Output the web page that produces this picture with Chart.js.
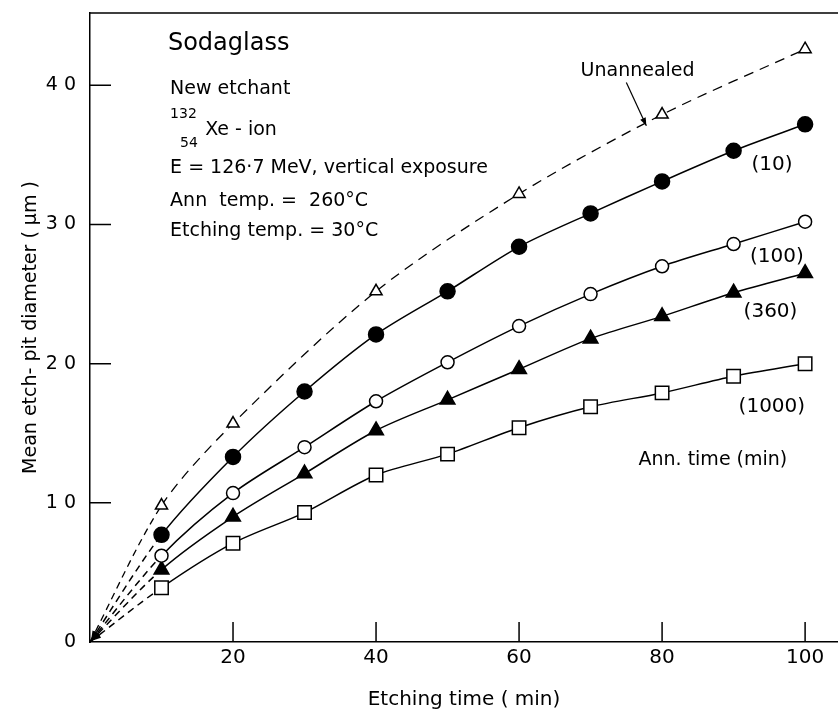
<!DOCTYPE html>
<html>
<head>
<meta charset="utf-8">
<script src="https://cdn.jsdelivr.net/npm/chart.js@4.4.1/dist/chart.umd.min.js"></script>
<style>
  html, body { margin: 0; padding: 0; background: #fff; }
  #wrap { width: 838px; height: 718px; }
</style>
</head>
<body>
<div id="wrap"><canvas id="chart"></canvas></div>
<script>
// etching time (min) and mean etch-pit diameter (um)
const etchTime = [10, 20, 30, 40, 50, 60, 70, 80, 90, 100];
const unannealedTime = [10, 20, 40, 60, 80, 100];
const unannealed = [9.8, 15.7, 25.2, 32.2, 37.9, 42.6];
const ann10 = [7.7, 13.3, 18.0, 22.1, 25.2, 28.4, 30.8, 33.1, 35.3, 37.2];
const ann100 = [6.2, 10.7, 14.0, 17.3, 20.1, 22.7, 25.0, 27.0, 28.6, 30.2];
const ann360 = [5.2, 9.0, 12.1, 15.2, 17.4, 19.6, 21.8, 23.4, 25.1, 26.5];
const ann1000 = [3.9, 7.1, 9.3, 12.0, 13.5, 15.4, 16.9, 17.9, 19.1, 20.0];

const xTicks = [20, 40, 60, 80, 100];
const yTicks = [0, 10, 20, 30, 40];

const FONT = "'DejaVu Sans', sans-serif";

// text placed in data units
const notes = [
    { text: 'Sodaglass', x: 10.9, y: 43.0, size: 24 },
    { text: 'New etchant', x: 11.2, y: 39.7, size: 19 },
    { text: '132', x: 11.2, y: 37.9, size: 14 },
    { text: 'Xe - ion', x: 16.1, y: 36.8, size: 19 },
    { text: '54', x: 12.6, y: 35.8, size: 14 },
    { text: 'E = 126·7 MeV, vertical exposure', x: 11.2, y: 34.05, size: 19 },
    { text: 'Ann  temp. =  260°C', x: 11.2, y: 31.7, size: 19 },
    { text: 'Etching temp. = 30°C', x: 11.2, y: 29.5, size: 19 },
    { text: 'Unannealed', x: 68.6, y: 41.0, size: 19 },
    { text: '(10)', x: 92.5, y: 34.3, size: 20 },
    { text: '(100)', x: 92.3, y: 27.7, size: 20 },
    { text: '(360)', x: 91.4, y: 23.7, size: 20 },
    { text: '(1000)', x: 90.7, y: 16.9, size: 20 },
    { text: 'Ann. time (min)', x: 76.7, y: 13.1, size: 19 }
];

// pointer from "Unannealed" to its curve
const pointer = { from: [75.0, 40.2], to: [77.8, 37.1] };

function makeSeries(label, times, values, pointStyle, radius, filled, allDashed) {
    const data = [{ x: 0, y: 0 }].concat(times.map((t, i) => ({ x: t, y: values[i] })));
    return {
        label: label,
        data: data,
        borderColor: '#000',
        borderWidth: allDashed ? 1.3 : 1.5,
        borderDash: allDashed ? [10, 7] : [],
        tension: 0.3,
        segment: {
            borderDash: ctx => (ctx.p0DataIndex === 0 ? [7, 5] : undefined)
        },
        pointStyle: pointStyle,
        pointRadius: ctx => (ctx.dataIndex === 0 ? 0 : radius),
        pointBorderWidth: 1.5,
        pointBorderColor: '#000',
        pointBackgroundColor: filled ? '#000' : '#fff',
        fill: false,
        clip: false
    };
}

function drawArrowHead(ctx, tipX, tipY, fromX, fromY, len, half) {
    const a = Math.atan2(tipY - fromY, tipX - fromX);
    ctx.beginPath();
    ctx.moveTo(tipX, tipY);
    ctx.lineTo(tipX - len * Math.cos(a) + half * Math.sin(a), tipY - len * Math.sin(a) - half * Math.cos(a));
    ctx.lineTo(tipX - len * Math.cos(a) - half * Math.sin(a), tipY - len * Math.sin(a) + half * Math.cos(a));
    ctx.closePath();
    ctx.fill();
}

const extras = {
    id: 'extras',
    afterDatasetsDraw(chart) {
        const { ctx, chartArea: a, scales: { x, y } } = chart;
        ctx.save();
        ctx.strokeStyle = '#000';
        ctx.fillStyle = '#000';
        ctx.lineWidth = 1.5;
        ctx.setLineDash([]);

        // top frame line and inward tick marks
        ctx.beginPath();
        ctx.moveTo(a.left, a.top);
        ctx.lineTo(a.right, a.top);
        xTicks.forEach(v => {
            const px = x.getPixelForValue(v);
            ctx.moveTo(px, a.bottom);
            ctx.lineTo(px, a.bottom - 20);
        });
        yTicks.forEach(v => {
            if (v === 0) return;
            const py = y.getPixelForValue(v);
            ctx.moveTo(a.left, py);
            ctx.lineTo(a.left + 21, py);
        });
        ctx.stroke();

        // arrow heads where the curves meet the origin
        const ox = x.getPixelForValue(0);
        const oy = y.getPixelForValue(0);
        [unannealed[0], ann10[0], ann100[0], ann360[0], ann1000[0]].forEach(v => {
            drawArrowHead(ctx, ox + 1, oy - 1, x.getPixelForValue(etchTime[0]), y.getPixelForValue(v), 10, 3.5);
        });

        // pointer
        const fx = x.getPixelForValue(pointer.from[0]);
        const fy = y.getPixelForValue(pointer.from[1]);
        const tx = x.getPixelForValue(pointer.to[0]);
        const ty = y.getPixelForValue(pointer.to[1]);
        ctx.lineWidth = 1.2;
        ctx.beginPath();
        ctx.moveTo(fx, fy);
        ctx.lineTo(tx, ty);
        ctx.stroke();
        drawArrowHead(ctx, tx, ty, fx, fy, 8, 3);

        // annotation text
        ctx.textAlign = 'left';
        ctx.textBaseline = 'middle';
        notes.forEach(n => {
            ctx.font = n.size + 'px ' + FONT;
            ctx.fillText(n.text, x.getPixelForValue(n.x), y.getPixelForValue(n.y));
        });
        ctx.restore();
    }
};

window.onload = () => {
    const ctx = document.getElementById('chart').getContext('2d');
    new Chart(ctx, {
        type: 'line',
        data: {
            datasets: [
                makeSeries('Unannealed', unannealedTime, unannealed, 'triangle', 7, false, true),
                makeSeries('(10)', etchTime, ann10, 'circle', 7.5, true, false),
                makeSeries('(100)', etchTime, ann100, 'circle', 6.5, false, false),
                makeSeries('(360)', etchTime, ann360, 'triangle', 8.5, true, false),
                makeSeries('(1000)', etchTime, ann1000, 'rect', 9.5, false, false)
            ]
        },
        options: {
            responsive: true,
            maintainAspectRatio: false,
            animation: false,
            devicePixelRatio: 1,
            layout: { autoPadding: false, padding: { top: 13, right: 0, left: 0, bottom: 0 } },
            plugins: {
                legend: { display: false },
                tooltip: { enabled: false }
            },
            scales: {
                x: {
                    type: 'linear',
                    min: 0,
                    max: 104.6,
                    afterFit: s => { s.height = 76; s.paddingLeft = 0; s.paddingRight = 0; },
                    grid: { display: false, drawTicks: false },
                    border: { display: true, color: '#000', width: 1.5 },
                    ticks: {
                        stepSize: 20,
                        includeBounds: false,
                        padding: 4,
                        color: '#000',
                        font: { family: FONT, size: 20 },
                        callback: v => (xTicks.includes(v) ? String(v) : '')
                    },
                    title: {
                        display: true,
                        text: 'Etching time ( min)',
                        color: '#000',
                        font: { family: FONT, size: 20 },
                        padding: { top: 0, bottom: 6 }
                    }
                },
                y: {
                    min: 0,
                    max: 45.2,
                    afterFit: s => { s.width = 90; s.paddingTop = 0; s.paddingBottom = 0; },
                    grid: { display: false, drawTicks: false },
                    border: { display: true, color: '#000', width: 1.5 },
                    ticks: {
                        stepSize: 10,
                        includeBounds: false,
                        padding: 14,
                        color: '#000',
                        font: { family: FONT, size: 19 },
                        callback: v => (yTicks.includes(v) ? String(v).split('').join(' ') : '')
                    },
                    title: {
                        display: true,
                        text: 'Mean etch- pit diameter ( μm )',
                        color: '#000',
                        font: { family: FONT, size: 19 },
                        padding: { top: 20, bottom: 0 }
                    }
                }
            }
        },
        plugins: [extras]
    });
};
</script>
</body>
</html>
